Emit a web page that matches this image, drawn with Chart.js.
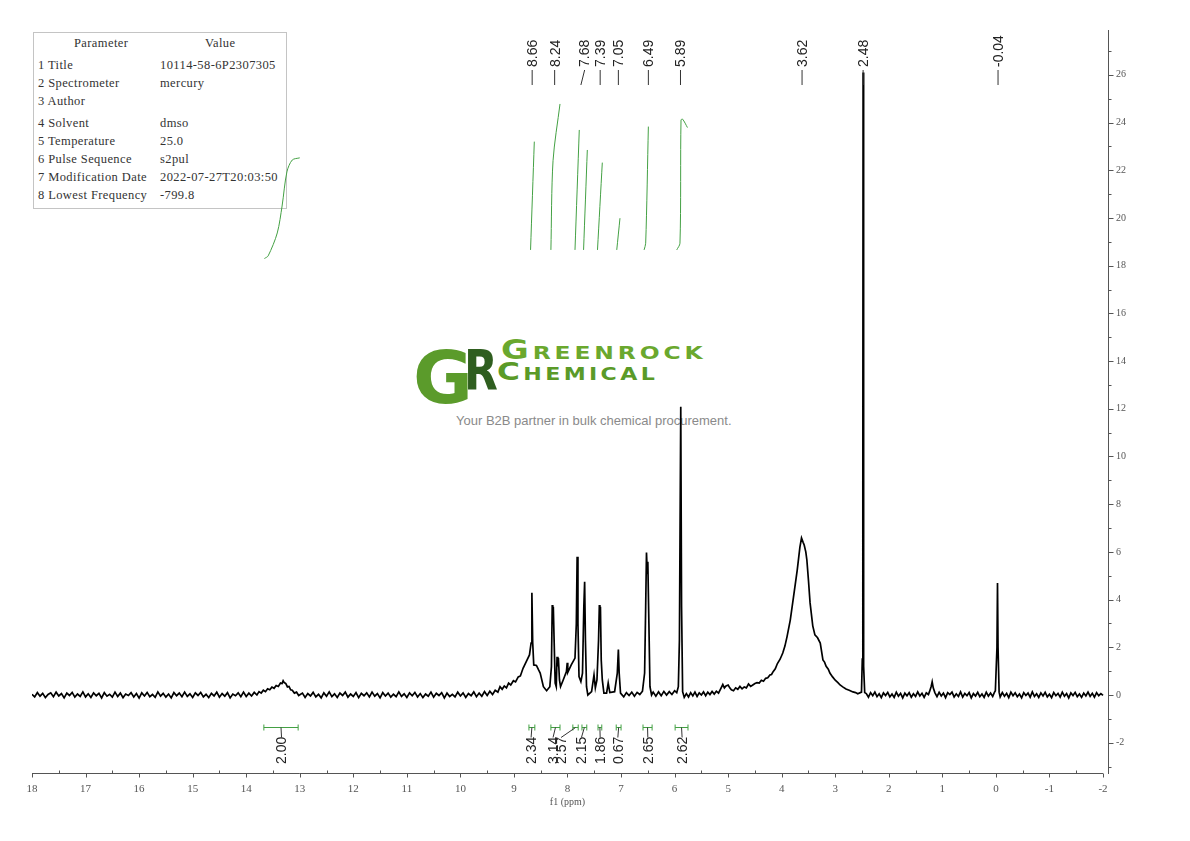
<!DOCTYPE html>
<html>
<head>
<meta charset="utf-8">
<title>1H NMR 10114-58-6P2307305</title>
<script src="https://cdn.jsdelivr.net/npm/chart.js@4.4.0/dist/chart.umd.min.js"></script>
<style>
    html, body { margin: 0; padding: 0; background: #fff; }
    #page { position: relative; width: 1190px; height: 841px; overflow: hidden; }
    #nmr { position: absolute; left: 0; top: 0; }

    /* parameter table */
    #params { position: absolute; left: 33px; top: 32px; width: 252px; height: 175px; border: 1px solid #c4c4c4; }
    #params span { position: absolute; font: 12.5px "Liberation Serif", serif; letter-spacing: 0.4px; line-height: 12px; color: #333; white-space: pre; }

    /* watermark */
    #mark { position: absolute; left: 0; top: 0; }
    #mark div { position: absolute; white-space: nowrap; }
    .logoG { left: 413px; top: 341px; font: bold 73px "DejaVu Sans"; line-height: 73px; color: #5b9b2b; }
    .logoR { left: 464px; top: 343px; font: bold 55px "DejaVu Sans"; line-height: 55px; color: #2f5e1f; transform: scaleX(0.8); transform-origin: left; }
    .brand1 { left: 501px; top: 337px; font: bold 26px "DejaVu Sans"; line-height: 26px; font-variant: small-caps; color: #6aa82e; letter-spacing: 3px; transform: scaleX(1.3); transform-origin: left; }
    .brand2 { left: 497px; top: 360px; font: bold 24px "DejaVu Sans"; line-height: 24px; font-variant: small-caps; color: #5a9a28; letter-spacing: 2.6px; transform: scaleX(1.3); transform-origin: left; }
    .tagline { left: 456px; top: 413px; font: 13px "Liberation Sans"; color: #8a8a8a; }
</style>
</head>
<body>
<div id="page">
    <div id="mark">
        <div class="logoG">G</div>
        <div class="logoR">R</div>
        <div class="brand1">Greenrock</div>
        <div class="brand2">Chemical</div>
        <div class="tagline">Your B2B partner in bulk chemical procurement.</div>
    </div>
    <div id="params"></div>
    <canvas id="nmr" width="1190" height="841"></canvas>
</div>

<script>
// acquisition parameters (table top-left)
const paramNames = ['1 Title', '2 Spectrometer', '3 Author', '4 Solvent', '5 Temperature', '6 Pulse Sequence', '7 Modification Date', '8 Lowest Frequency'];
const paramValues = ['10114-58-6P2307305', 'mercury', '', 'dmso', '25.0', 's2pul', '2022-07-27T20:03:50', '-799.8'];

// axis ticks
const xTickValues = [18, 17, 16, 15, 14, 13, 12, 11, 10, 9, 8, 7, 6, 5, 4, 3, 2, 1, 0, -1, -2];
const yTickValues = [-2, 0, 2, 4, 6, 8, 10, 12, 14, 16, 18, 20, 22, 24, 26];

// spectrum trace [ppm, intensity] (baseline noise estimated by eye)
const specLowField = [
    [18.00, 0.03], [17.95, -0.08], [17.90, 0.10], [17.85, -0.05], [17.80, 0.07], [17.75, -0.11], [17.70, 0.02],
    [17.65, 0.09], [17.60, -0.07], [17.55, 0.12], [17.50, -0.04], [17.45, 0.06], [17.40, -0.12], [17.35, 0.08],
    [17.30, -0.02], [17.25, 0.11], [17.20, -0.09], [17.15, 0.04], [17.10, -0.06], [17.05, 0.13], [17.00, -0.08],
    [16.95, 0.05], [16.90, -0.10], [16.85, 0.09], [16.80, -0.03], [16.75, 0.07], [16.70, -0.12], [16.65, 0.10],
    [16.60, -0.05], [16.55, 0.03], [16.50, -0.09], [16.45, 0.12], [16.40, -0.06], [16.35, 0.08], [16.30, -0.11],
    [16.25, 0.04], [16.20, -0.02], [16.15, 0.10], [16.10, -0.08], [16.05, 0.06], [16.00, -0.13], [15.95, 0.09],
    [15.90, -0.04], [15.85, 0.11], [15.80, -0.07], [15.75, 0.02], [15.70, -0.10], [15.65, 0.13], [15.60, -0.05],
    [15.55, 0.07], [15.50, -0.09], [15.45, 0.04], [15.40, -0.12], [15.35, 0.10], [15.30, -0.03], [15.25, 0.08],
    [15.20, -0.07], [15.15, 0.12], [15.10, -0.06], [15.05, 0.05], [15.00, -0.10], [14.95, 0.09], [14.90, -0.02],
    [14.85, 0.11], [14.80, -0.08], [14.75, 0.03], [14.70, -0.11], [14.65, 0.07], [14.60, -0.04], [14.55, 0.12],
    [14.50, -0.09], [14.45, 0.06], [14.40, -0.05], [14.35, 0.10], [14.30, -0.12], [14.25, 0.04], [14.20, -0.03],
    [14.15, 0.09], [14.10, -0.07], [14.05, 0.12], [14.00, -0.06], [13.95, 0.08], [13.90, -0.04], [13.85, 0.11],
    [13.80, 0.00],
    [13.76, 0.14], [13.72, 0.08], [13.68, 0.20], [13.64, 0.14], [13.60, 0.26], [13.56, 0.22], [13.52, 0.33],
    [13.48, 0.28], [13.44, 0.40], [13.40, 0.36], [13.36, 0.50], [13.33, 0.48], [13.31, 0.60], [13.29, 0.52],
    [13.26, 0.48], [13.23, 0.34], [13.20, 0.36], [13.17, 0.22], [13.14, 0.20], [13.10, 0.08], [13.06, 0.12],
    [13.02, -0.02],
    [12.95, 0.08], [12.90, -0.10], [12.85, 0.06], [12.80, -0.04], [12.75, 0.11], [12.70, -0.08], [12.65, 0.03],
    [12.60, -0.12], [12.55, 0.09], [12.50, -0.05], [12.45, 0.13], [12.40, -0.07], [12.35, 0.05], [12.30, -0.10],
    [12.25, 0.08], [12.20, -0.02], [12.15, 0.12], [12.10, -0.09], [12.05, 0.04], [12.00, -0.06], [11.95, 0.10],
    [11.90, -0.11], [11.85, 0.07], [11.80, -0.03], [11.75, 0.09], [11.70, -0.08], [11.65, 0.12], [11.60, -0.05],
    [11.55, 0.06], [11.50, -0.12], [11.45, 0.10], [11.40, -0.04], [11.35, 0.08], [11.30, -0.09], [11.25, 0.03],
    [11.20, -0.07], [11.15, 0.13], [11.10, -0.06], [11.05, 0.05], [11.00, -0.10], [10.95, 0.09], [10.90, -0.03],
    [10.85, 0.11], [10.80, -0.08], [10.75, 0.06], [10.70, -0.11], [10.65, 0.04], [10.60, -0.05], [10.55, 0.12],
    [10.50, -0.09], [10.45, 0.07], [10.40, -0.02], [10.35, 0.10], [10.30, -0.12], [10.25, 0.08], [10.20, -0.06],
    [10.15, 0.03], [10.10, -0.08], [10.05, 0.12], [10.00, -0.04], [9.95, 0.09], [9.90, -0.10], [9.85, 0.06],
    [9.80, -0.03], [9.75, 0.13], [9.70, -0.07], [9.65, 0.08], [9.60, -0.05], [9.55, 0.14], [9.50, -0.02],
    [9.45, 0.16], [9.40, 0.02], [9.35, 0.20], [9.30, 0.12]
];
const specAromatic = [
    [9.26, 0.35], [9.22, 0.24], [9.18, 0.38], [9.14, 0.30], [9.10, 0.50], [9.06, 0.42], [9.01, 0.60], [8.97, 0.55],
    [8.92, 0.76], [8.88, 0.80], [8.83, 1.12], [8.77, 1.40], [8.71, 1.68],
    [8.68, 2.18], [8.665, 4.29], [8.65, 2.20], [8.63, 1.26], [8.58, 1.24], [8.54, 1.05], [8.51, 0.92], [8.45, 0.35],
    [8.39, 0.18], [8.33, 0.35], [8.30, 1.19], [8.285, 3.77], [8.275, 3.40], [8.265, 3.70], [8.25, 2.30], [8.23, 0.50],
    [8.21, 0.35], [8.195, 1.60], [8.18, 1.20], [8.17, 1.55], [8.15, 0.63], [8.13, 0.35], [8.08, 0.63], [8.02, 0.98],
    [8.005, 1.35], [7.995, 0.95], [7.93, 1.26], [7.86, 1.55], [7.835, 3.00], [7.82, 5.80], [7.805, 3.00], [7.785, 0.77],
    [7.75, 0.56], [7.72, 0.92], [7.695, 3.70], [7.68, 4.75], [7.665, 2.30], [7.645, 0.35], [7.62, 0.00], [7.55, 0.14],
    [7.505, 0.84], [7.48, 0.30], [7.45, 0.63], [7.42, 2.30], [7.405, 3.77], [7.395, 3.40], [7.385, 3.70], [7.37, 1.47],
    [7.35, 0.63], [7.32, 0.08], [7.27, 0.08], [7.24, 0.50], [7.21, 0.10], [7.12, 0.14], [7.07, 0.92], [7.05, 1.91],
    [7.035, 0.92], [7.01, 0.08],
    [6.95, -0.08], [6.90, 0.10], [6.85, -0.02], [6.80, 0.12], [6.75, -0.05], [6.70, 0.11], [6.65, 0.02], [6.60, 0.16],
    [6.56, 0.92], [6.54, 3.70], [6.525, 5.97], [6.51, 5.10], [6.50, 5.59], [6.48, 3.00], [6.46, 0.35], [6.43, 0.00],
    [6.40, 0.12], [6.35, -0.05], [6.30, 0.13], [6.25, -0.03], [6.20, 0.15], [6.15, 0.00], [6.10, 0.14], [6.05, 0.02],
    [6.00, 0.18], [5.96, 0.10], [5.93, 0.35], [5.91, 2.30], [5.885, 12.08], [5.87, 3.70], [5.85, 0.14]
];
const specHighField = [
    [5.82, -0.10], [5.78, 0.06], [5.74, -0.08], [5.70, 0.10], [5.66, -0.04], [5.62, 0.12], [5.58, -0.06], [5.54, 0.09],
    [5.50, 0.00], [5.46, 0.13], [5.42, -0.03], [5.38, 0.12], [5.34, 0.02], [5.30, 0.15], [5.26, 0.04], [5.22, 0.16],
    [5.18, 0.08], [5.14, 0.26], [5.10, 0.44], [5.07, 0.30], [5.04, 0.38], [5.00, 0.42], [4.97, 0.30], [4.94, 0.22],
    [4.90, 0.18], [4.86, 0.30], [4.82, 0.24], [4.78, 0.36], [4.74, 0.26], [4.70, 0.34], [4.66, 0.30], [4.62, 0.46],
    [4.58, 0.36], [4.54, 0.42], [4.50, 0.48], [4.46, 0.52], [4.42, 0.50], [4.38, 0.62], [4.34, 0.58], [4.30, 0.70],
    [4.26, 0.72], [4.22, 0.84], [4.19, 0.86], [4.16, 0.98], [4.12, 1.10], [4.08, 1.32], [4.03, 1.50], [3.98, 1.76],
    [3.94, 2.05], [3.90, 2.45], [3.84, 3.14], [3.78, 4.10], [3.71, 5.24], [3.66, 6.20], [3.63, 6.58], [3.60, 6.40],
    [3.58, 6.29], [3.55, 6.00], [3.53, 5.66], [3.50, 4.80], [3.47, 3.86], [3.42, 2.90], [3.38, 2.52], [3.33, 2.40],
    [3.28, 2.18], [3.23, 1.47], [3.20, 1.38], [3.17, 1.20], [3.13, 1.08], [3.10, 0.92], [3.05, 0.76], [3.00, 0.62],
    [2.95, 0.52], [2.91, 0.42], [2.86, 0.34], [2.80, 0.25], [2.74, 0.20], [2.67, 0.13], [2.62, 0.10], [2.58, 0.05],
    [2.51, 0.12], [2.495, 1.50], [2.485, 9.00], [2.48, 26.1], [2.475, 9.00], [2.465, 1.20], [2.45, 0.10],
    [2.42, 0.06], [2.38, -0.09], [2.34, 0.10], [2.30, -0.03], [2.26, 0.12], [2.22, -0.07], [2.18, 0.05], [2.14, -0.11],
    [2.10, 0.09], [2.06, -0.02], [2.02, 0.11], [1.98, -0.08], [1.94, 0.04], [1.90, -0.10], [1.86, 0.12], [1.82, -0.05],
    [1.78, 0.07], [1.74, -0.12], [1.70, 0.08], [1.66, -0.03], [1.62, 0.10], [1.58, -0.09], [1.54, 0.05], [1.50, -0.06],
    [1.46, 0.13], [1.42, -0.04], [1.38, 0.07], [1.34, -0.10], [1.30, 0.09], [1.26, 0.02], [1.24, 0.14], [1.21, 0.35],
    [1.19, 0.55], [1.17, 0.30], [1.14, 0.10],
    [1.10, -0.07], [1.06, 0.11], [1.02, -0.04], [0.98, 0.08], [0.94, -0.11], [0.90, 0.10], [0.86, 0.02], [0.82, 0.12],
    [0.78, -0.08], [0.74, 0.05], [0.70, -0.06], [0.66, 0.13], [0.62, -0.09], [0.58, 0.07], [0.54, -0.03], [0.50, 0.10],
    [0.46, -0.12], [0.42, 0.06], [0.38, -0.04], [0.34, 0.11], [0.30, -0.07], [0.26, 0.04], [0.22, -0.10], [0.18, 0.12],
    [0.14, -0.05], [0.10, 0.08], [0.06, -0.06], [0.03, 0.10], [0.01, 0.18], [-0.02, 2.00], [-0.03, 4.70],
    [-0.04, 2.00], [-0.06, 0.12],
    [-0.08, -0.08], [-0.12, 0.10], [-0.16, -0.05], [-0.20, 0.07], [-0.24, -0.11], [-0.28, 0.12], [-0.32, -0.03],
    [-0.36, 0.09], [-0.40, -0.07], [-0.44, 0.04], [-0.48, -0.12], [-0.52, 0.10], [-0.56, -0.02], [-0.60, 0.08],
    [-0.64, -0.09], [-0.68, 0.13], [-0.72, -0.06], [-0.76, 0.05], [-0.80, -0.10], [-0.84, 0.09], [-0.88, -0.04],
    [-0.92, 0.11], [-0.96, -0.08], [-1.00, 0.03], [-1.04, -0.11], [-1.08, 0.10], [-1.12, -0.03], [-1.16, 0.07],
    [-1.20, -0.09], [-1.24, 0.12], [-1.28, -0.05], [-1.32, 0.06], [-1.36, -0.12], [-1.40, 0.09], [-1.44, -0.02],
    [-1.48, 0.11], [-1.52, -0.07], [-1.56, 0.04], [-1.60, -0.10], [-1.64, 0.08], [-1.68, -0.04], [-1.72, 0.12],
    [-1.76, -0.06], [-1.80, 0.07], [-1.84, -0.09], [-1.88, 0.10], [-1.92, -0.03], [-1.96, 0.06], [-2.00, -0.02]
];

// integral curves (green S-curves), [ppm, height on the same axis]
const integralCurves = [
    [[13.66, 18.30], [13.59, 18.41], [13.42, 19.37], [13.33, 20.50], [13.24, 21.93], [13.14, 22.43], [13.00, 22.52]],
    [[8.69, 18.66], [8.62, 23.20]],
    [[8.31, 18.66], [8.27, 22.40], [8.14, 24.78]],
    [[7.86, 18.66], [7.78, 23.69]],
    [[7.70, 18.66], [7.63, 22.85]],
    [[7.44, 18.66], [7.35, 22.32]],
    [[7.08, 18.66], [7.02, 19.99]],
    [[6.57, 18.66], [6.54, 18.94], [6.49, 23.83]],
    [[5.96, 18.66], [5.90, 18.94], [5.88, 24.11], [5.85, 24.14], [5.76, 23.79]]
];

// peak picking labels
const peakLabels = ['8.66', '8.24', '7.68', '7.39', '7.05', '6.49', '5.89', '3.62', '2.48', '-0.04'];
const peakLabelPpm = [8.66, 8.24, 7.68, 7.39, 7.05, 6.49, 5.89, 3.62, 2.48, -0.04];
const peakLinkPpm = [8.66, 8.24, 7.75, 7.39, 7.05, 6.49, 5.89, 3.62, 2.48, -0.04];

// integration ranges and values
const integralValues = ['2.00', '2.34', '3.14', '2.57', '2.15', '1.86', '0.67', '2.65', '2.62'];
const integralFrom = [13.67, 8.72, 8.31, 7.90, 7.73, 7.43, 7.09, 6.59, 5.99];
const integralTo = [13.03, 8.61, 8.14, 7.80, 7.64, 7.36, 7.00, 6.42, 5.75];
const integralLabelPpm = [13.34, 8.68, 8.27, 8.12, 7.74, 7.39, 7.06, 6.50, 5.86];

const GREEN = '#43a043';
const AXIS = '#555';

// parameter table
(function buildTable() {
    const box = document.getElementById('params');
    const rowCenters = [65, 83, 101, 123, 141, 159, 177, 195];
    const put = (text, left, centerY) => {
        const s = document.createElement('span');
        s.textContent = text;
        s.style.left = left + 'px';
        s.style.top = (centerY - 33 - 6) + 'px';
        box.appendChild(s);
    };
    put('Parameter', 40, 43);
    put('Value', 171, 43);
    paramNames.forEach((name, i) => {
        put(name, 4, rowCenters[i]);
        put(paramValues[i], 126, rowCenters[i]);
    });
})();

// axes ticks, peak labels, integration bars
const nmrDecor = {
    id: 'nmrDecor',
    afterDraw(chart) {
        const { ctx, chartArea } = chart;
        const x = chart.scales.x;
        const y = chart.scales.y;
        const axisY = chartArea.bottom + 0.5;
        ctx.save();

        // bottom ppm axis
        ctx.strokeStyle = AXIS;
        ctx.lineWidth = 1;
        ctx.beginPath();
        ctx.moveTo(x.getPixelForValue(xTickValues[0]), axisY);
        ctx.lineTo(x.getPixelForValue(xTickValues[xTickValues.length - 1]), axisY);
        xTickValues.forEach((v, i) => {
            const px = Math.round(x.getPixelForValue(v)) + 0.5;
            ctx.moveTo(px, axisY);
            ctx.lineTo(px, axisY + 4);
            if (i < xTickValues.length - 1) {
                const mx = Math.round(x.getPixelForValue((v + xTickValues[i + 1]) / 2)) + 0.5;
                ctx.moveTo(mx, axisY);
                ctx.lineTo(mx, axisY - 3);
            }
        });
        ctx.stroke();

        // right intensity axis ticks
        const axisX = chartArea.right + 0.5;
        ctx.beginPath();
        yTickValues.forEach(v => {
            const py = Math.round(y.getPixelForValue(v)) + 0.5;
            ctx.moveTo(axisX, py);
            ctx.lineTo(axisX + 5, py);
            const my = Math.round(y.getPixelForValue(v + 1)) + 0.5;
            if (my > chartArea.top) {
                ctx.moveTo(axisX, my);
                ctx.lineTo(axisX + 3, my);
            }
        });
        const lowMinor = Math.round(y.getPixelForValue(yTickValues[0] - 1)) + 0.5;
        if (lowMinor < chartArea.bottom) {
            ctx.moveTo(axisX, lowMinor);
            ctx.lineTo(axisX + 3, lowMinor);
        }
        ctx.stroke();

        ctx.fillStyle = AXIS;
        ctx.font = '10px "Liberation Serif"';
        ctx.textAlign = 'center';
        ctx.textBaseline = 'middle';
        ctx.fillText('f1 (ppm)', (chartArea.left + x.getPixelForValue(-2)) / 2, 802);

        // peak labels on top
        ctx.font = '14px "Liberation Sans"';
        ctx.fillStyle = '#222';
        ctx.strokeStyle = '#333';
        ctx.textAlign = 'left';
        ctx.textBaseline = 'middle';
        peakLabels.forEach((txt, i) => {
            const px = x.getPixelForValue(peakLabelPpm[i]);
            const lx = x.getPixelForValue(peakLinkPpm[i]);
            ctx.beginPath();
            ctx.moveTo(px, 70);
            ctx.lineTo(lx, 85);
            ctx.stroke();
            ctx.save();
            ctx.translate(px, 67);
            ctx.rotate(-Math.PI / 2);
            ctx.fillText(txt, 0, 1);
            ctx.restore();
        });

        // integration bars and values
        const barY = Math.round(y.getPixelForValue(-1.34)) + 0.5;
        integralValues.forEach((txt, i) => {
            const x1 = x.getPixelForValue(integralFrom[i]);
            const x2 = x.getPixelForValue(integralTo[i]);
            const cx = (x1 + x2) / 2;
            const lx = x.getPixelForValue(integralLabelPpm[i]);
            ctx.strokeStyle = GREEN;
            ctx.beginPath();
            ctx.moveTo(x1, barY); ctx.lineTo(x2, barY);
            ctx.moveTo(x1, barY - 3); ctx.lineTo(x1, barY + 3);
            ctx.moveTo(x2, barY - 3); ctx.lineTo(x2, barY + 3);
            ctx.stroke();
            ctx.strokeStyle = '#333';
            ctx.beginPath();
            ctx.moveTo(cx, barY);
            ctx.lineTo(lx, barY + 10);
            ctx.stroke();
            ctx.save();
            ctx.translate(lx, 764);
            ctx.rotate(-Math.PI / 2);
            ctx.fillStyle = '#222';
            ctx.fillText(txt, 0, 1);
            ctx.restore();
        });
        ctx.restore();
    }
};

const toXY = pts => pts.map(p => ({ x: p[0], y: p[1] }));
const spectrum = specLowField.concat(specAromatic, specHighField);

const datasets = [{
    data: toXY(spectrum),
    borderColor: '#000',
    borderWidth: 1.7,
    pointRadius: 0,
    tension: 0
}].concat(integralCurves.map(c => ({
    data: toXY(c),
    borderColor: GREEN,
    borderWidth: 1,
    pointRadius: 0,
    tension: 0.3
})));

new Chart(document.getElementById('nmr').getContext('2d'), {
    type: 'line',
    data: { datasets },
    options: {
        responsive: false,
        animation: false,
        events: [],
        layout: { padding: { left: 32, top: 30, right: 0, bottom: 0 } },
        plugins: { legend: { display: false }, tooltip: { enabled: false } },
        scales: {
            x: {
                type: 'linear',
                reverse: true,
                min: -2.0934,
                max: 18,
                afterBuildTicks: s => { s.ticks = xTickValues.map(v => ({ value: v })); },
                afterFit: s => { s.height = 68; },
                grid: { display: false, drawTicks: false },
                border: { display: false },
                ticks: {
                    padding: 10, autoSkip: false, maxRotation: 0, color: AXIS,
                    font: { family: 'Liberation Serif', size: 11 }
                }
            },
            y: {
                position: 'right',
                min: -3.27,
                max: 27.88,
                afterBuildTicks: s => { s.ticks = yTickValues.map(v => ({ value: v })); },
                afterFit: s => { s.width = 82; },
                grid: { display: false, drawTicks: false },
                border: { display: true, color: AXIS, width: 1 },
                ticks: {
                    padding: 8, color: AXIS,
                    font: { family: 'Liberation Serif', size: 10 }
                }
            }
        }
    },
    plugins: [nmrDecor]
});
</script>
</body>
</html>
